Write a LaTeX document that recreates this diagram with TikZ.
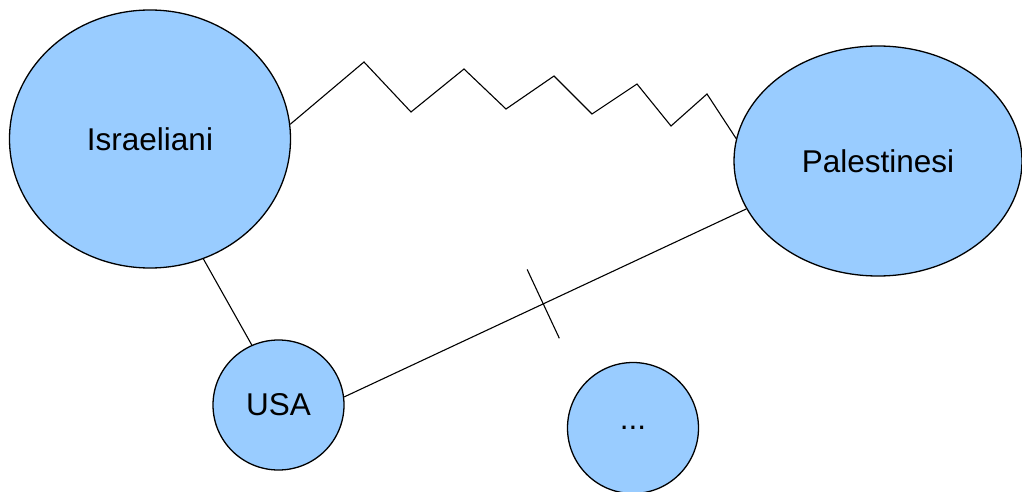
\documentclass[tikz,border=0pt]{standalone}
\usepackage{fontspec}
\setmainfont{Liberation Sans}
\usetikzlibrary{shapes.geometric}
\usetikzlibrary{calc}
\definecolor{blobfill}{HTML}{99CCFF}
\begin{document}
\begin{tikzpicture}[x=1pt, y=-1pt, line width=1.3pt,
	blob/.style={draw,shape=ellipse,fill=blobfill,inner sep=0pt,font=\fontsize{31.5}{36}\selectfont}]
	\useasboundingbox (0, 0) rectangle (1022, 492);
	\node[blob, minimum width=281, minimum height=258] (isr) at (150, 139) {Israeliani};
	\node[blob, minimum width=288, minimum height=230] (pal) at (878, 161) {Palestinesi};
	\node[blob, minimum width=131, minimum height=130] (usa) at (278.5, 405) {USA};
	\node[blob, minimum width=131, minimum height=131] (dots) at (633, 428) {...};
	\draw[line width=1.1pt] (isr.6) -- (364, 62) -- (411, 112) -- (464, 69) -- (506, 109)
		-- (554, 76) -- (592, 114) -- (637, 84) -- (671, 126) -- (707, 94) -- (pal.171);
	\draw[line width=1.1pt] (isr.-66.5) to (usa.114.8);
	\draw[line width=1.1pt] (usa.7.9) to coordinate[pos=0.495] (cut) (pal.200);
	\draw[line width=1.1pt] ($(cut)!38pt!90:(pal.200)$) to ($(cut)!38pt!-90:(pal.200)$);
\end{tikzpicture}
\end{document}
